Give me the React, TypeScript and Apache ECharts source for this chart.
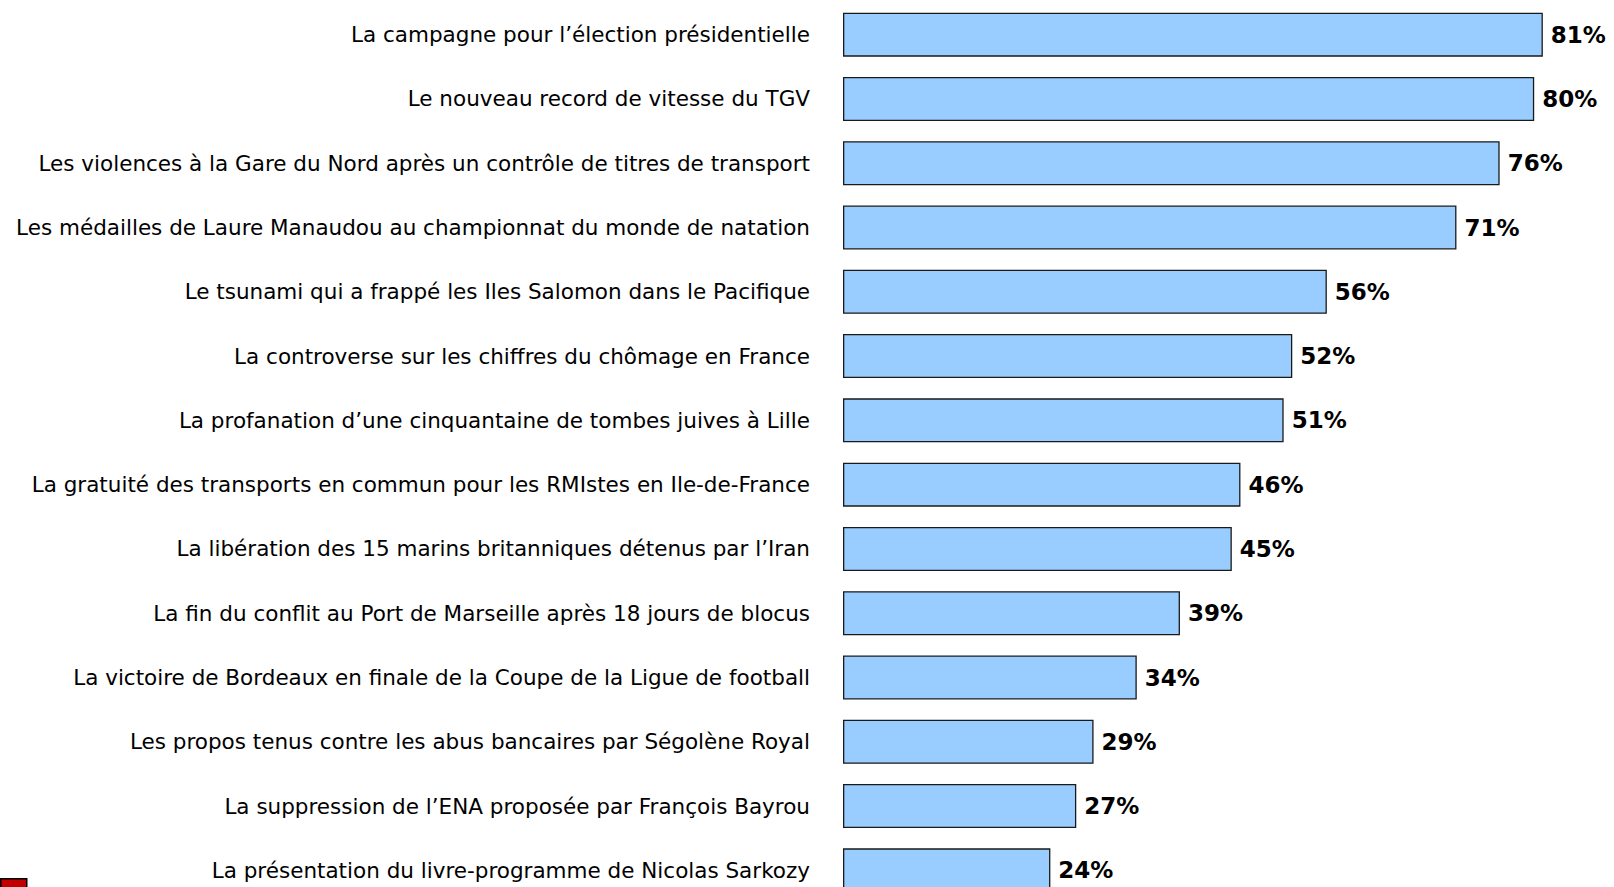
import React, { useEffect, useRef } from "react";
import * as echarts from "echarts";

const categories = [
  "La campagne pour l’élection présidentielle",
  "Le nouveau record de vitesse du TGV",
  "Les violences à la Gare du Nord après un contrôle de titres de transport",
  "Les médailles de Laure Manaudou au championnat du monde de natation",
  "Le tsunami qui a frappé les Iles Salomon dans le Pacifique",
  "La controverse sur les chiffres du chômage en France",
  "La profanation d’une cinquantaine de tombes juives à Lille",
  "La gratuité des transports en commun pour les RMIstes en Ile-de-France",
  "La libération des 15 marins britanniques détenus par l’Iran",
  "La fin du conflit au Port de Marseille après 18 jours de blocus",
  "La victoire de Bordeaux en finale de la Coupe de la Ligue de football",
  "Les propos tenus contre les abus bancaires par Ségolène Royal",
  "La suppression de l’ENA proposée par François Bayrou",
  "La présentation du livre-programme de Nicolas Sarkozy",
];

const values = [81, 80, 76, 71, 56, 52, 51, 46, 45, 39, 34, 29, 27, 24];

export default function App() {
  const ref = useRef<HTMLDivElement>(null);

  useEffect(() => {
    document.body.style.margin = "0";
    document.body.style.overflow = "hidden";
    if (!ref.current) return;
    const chart = echarts.init(ref.current, undefined, { renderer: "svg" });
    const font = "Verdana, 'DejaVu Sans', sans-serif";
    chart.setOption({
      animation: false,
      backgroundColor: "#ffffff",
      grid: { left: 843, top: 2.5, width: 864, height: 900, containLabel: false },
      xAxis: {
        type: "value",
        min: 0,
        max: 100,
        show: false,
      },
      yAxis: {
        type: "category",
        data: categories,
        inverse: true,
        axisLine: { show: false },
        axisTick: { show: false },
        splitLine: { show: false },
        axisLabel: {
          margin: 33,
          color: "#000000",
          fontFamily: font,
          fontSize: 21.5,
          padding: [3, 0, 0, 0],
        },
      },
      series: [
        {
          type: "bar",
          data: values,
          barWidth: 44,
          itemStyle: { color: "#99CCFF", borderColor: "#1a1a1a", borderWidth: 1.3 },
          label: {
            show: true,
            position: "right",
            distance: 8,
            formatter: "{c}%",
            color: "#000000",
            fontFamily: font,
            fontWeight: "bold",
            fontSize: 23,
            padding: [4, 0, 0, 0],
          },
        },
      ],
      graphic: [
        {
          type: "rect",
          left: 0,
          top: 878,
          shape: { width: 26, height: 14 },
          style: { fill: "#C00000", stroke: "#000000", lineWidth: 1.5 },
        },
      ],
    });
    return () => chart.dispose();
  }, []);

  return (
    <div style={{ width: 1614, height: 887, overflow: "hidden", position: "relative" }}>
      <div ref={ref} style={{ width: 1720, height: 910 }} />
    </div>
  );
}
